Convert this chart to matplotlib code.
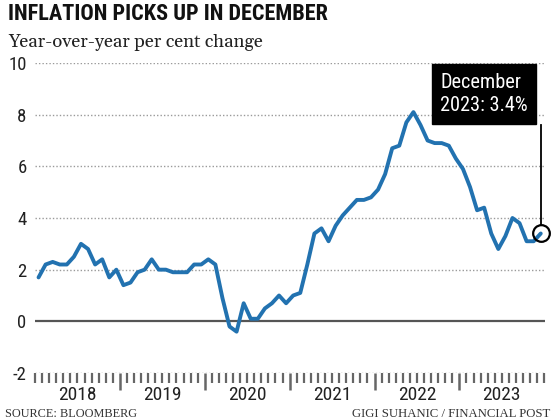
import matplotlib
matplotlib.use("Agg")
import matplotlib.pyplot as plt
import numpy as np

# ---- data ----
years = ["2018", "2019", "2020", "2021", "2022", "2023"]
cpi_2018 = [1.7, 2.2, 2.3, 2.2, 2.2, 2.5, 3.0, 2.8, 2.2, 2.4, 1.7, 2.0]
cpi_2019 = [1.4, 1.5, 1.9, 2.0, 2.4, 2.0, 2.0, 1.9, 1.9, 1.9, 2.2, 2.2]
cpi_2020 = [2.4, 2.2, 0.9, -0.2, -0.4, 0.7, 0.1, 0.1, 0.5, 0.7, 1.0, 0.7]
cpi_2021 = [1.0, 1.1, 2.2, 3.4, 3.6, 3.1, 3.7, 4.1, 4.4, 4.7, 4.7, 4.8]
cpi_2022 = [5.1, 5.7, 6.7, 6.8, 7.7, 8.1, 7.6, 7.0, 6.9, 6.9, 6.8, 6.3]
cpi_2023 = [5.9, 5.2, 4.3, 4.4, 3.4, 2.8, 3.3, 4.0, 3.8, 3.1, 3.1, 3.4]
y_ticks = [-2, 0, 2, 4, 6, 8, 10]
annot_month = "December"

values = cpi_2018 + cpi_2019 + cpi_2020 + cpi_2021 + cpi_2022 + cpi_2023
months = np.arange(len(values))

NARROW = ["Roboto Condensed", "DejaVu Sans"]
SERIF = ["Gelasio", "Liberation Serif", "DejaVu Serif"]
FOOT = ["Liberation Serif", "DejaVu Serif"]

W, H = 560, 420
fig = plt.figure(figsize=(W / 100, H / 100), dpi=100)
fig.patch.set_facecolor("white")

left, right, top, bottom = 35, 545, 63, 373
ax = fig.add_axes([left / W, 1 - bottom / H, (right - left) / W, (bottom - top) / H])
ax.set_xlim(-0.5, len(values) - 0.4)
ax.set_ylim(y_ticks[0], y_ticks[-1])
for s in ax.spines.values():
    s.set_visible(False)

# grid lines
for yv in y_ticks:
    if yv == 0:
        ax.axhline(yv, color="#555555", lw=1.6, zorder=1)
    else:
        ax.axhline(yv, color="#9a9a9a", lw=1.0, linestyle=(0, (1, 1.5)), zorder=1)

ax.plot(months, values, color="#2272b0", lw=2.8, solid_joinstyle="round",
        solid_capstyle="round", zorder=3)

# y ticks
ax.set_yticks(y_ticks)
ax.set_yticklabels([str(v) for v in y_ticks], family=NARROW, fontsize=13.5, color="#222222")
ax.tick_params(axis="y", length=0, pad=6)

# x ticks: month boundaries, year boundaries larger
n = len(values)
boundaries = np.arange(n + 1) - 0.5
major = [b for b in boundaries if (b + 0.5) % 12 == 0 and 0 < b < n - 1]
minor = [b for b in boundaries if b not in major]
ax.set_xticks(major)
ax.set_xticks(minor, minor=True)
ax.set_xticklabels([])
ax.tick_params(axis="x", which="major", direction="out", length=12, width=1.8, color="#666666")
ax.tick_params(axis="x", which="minor", direction="out", length=7, width=1.6, color="#666666")

for k, yr in enumerate(years):
    ax.text(12 * k + 5.5, -22 / (bottom - top), yr, transform=ax.get_xaxis_transform(),
            ha="center", va="center", family=NARROW, fontsize=14, color="#222222")

# annotation
x_last, v_last = months[-1], values[-1]
box_bottom = 7.6
circ_r = 8 / ((bottom - top) / (y_ticks[-1] - y_ticks[0]))
ax.plot([x_last], [v_last], "o", ms=12, mfc="none", mec="black", mew=1.6, zorder=5,
        clip_on=False)
ax.plot([x_last, x_last], [v_last + circ_r, box_bottom], color="black", lw=1.3, zorder=4,
        clip_on=False)
ax.annotate(f"{annot_month}\n{years[-1]}: {v_last}%", xy=(x_last, box_bottom), xycoords="data",
            xytext=(-13, 10), textcoords="offset pixels", ha="right", va="bottom",
            multialignment="left", color="white", family=NARROW, fontsize=14.6,
            linespacing=1.3,
            bbox=dict(boxstyle="square,pad=0.42", fc="black", ec="black"), zorder=6,
            annotation_clip=False)

# titles
fig.text(8 / W, 1 - 3 / H, "INFLATION PICKS UP IN DECEMBER", ha="left", va="top",
         family=NARROW, fontweight="bold", fontsize=16, color="#111111")
fig.text(8 / W, 1 - 47 / H, "Year-over-year per cent change", ha="left", va="baseline",
         family=SERIF, fontsize=13.3, color="#222222")

# footer
fig.text(5 / W, 1 - 408 / H, "SOURCE: BLOOMBERG", ha="left", va="top",
         family=FOOT, fontsize=8.8, color="#333333")
fig.text(550 / W, 1 - 408 / H, "GIGI SUHANIC / FINANCIAL POST", ha="right", va="top",
         family=FOOT, fontsize=9.2, color="#333333")

fig.savefig("out.png", dpi=100, facecolor="white")
